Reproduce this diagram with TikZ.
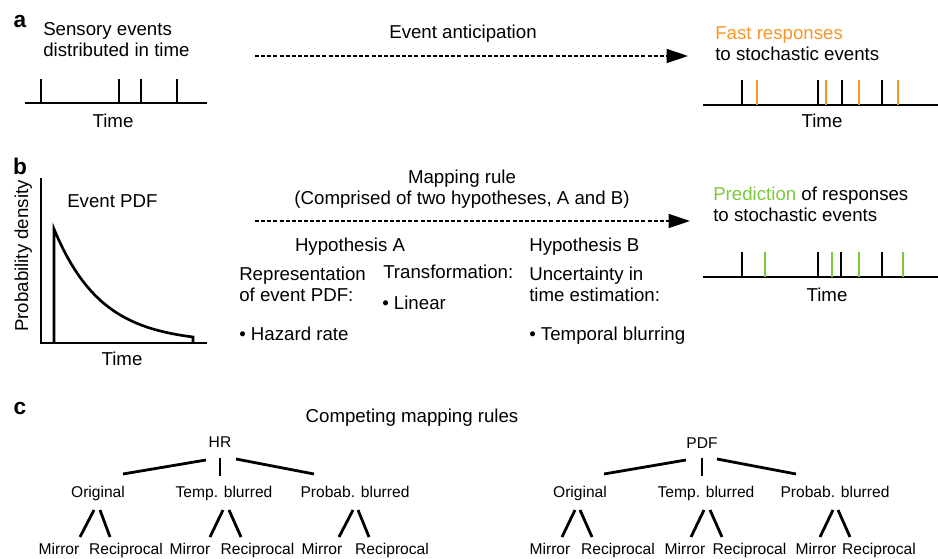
\documentclass[tikz,border=0pt]{standalone}
\usepackage{fontspec}
\setmainfont{Liberation Sans}
\usetikzlibrary{arrows.meta}
\usetikzlibrary{calc}
\usetikzlibrary{positioning}
\definecolor{fastorange}{RGB}{247,150,40}
\definecolor{predgreen}{RGB}{125,200,60}

\begin{document}
\begin{tikzpicture}[x=0.75pt, y=-0.75pt,
    txt/.style={inner sep=0pt, anchor=base, font=\fontsize{14pt}{16pt}\selectfont},
    ltxt/.style={txt, anchor=base west, align=left},
    tree/.style={inner sep=0pt, anchor=base, font=\fontsize{11.7pt}{14pt}\selectfont},
    panel/.style={inner sep=0pt, anchor=base, font=\fontsize{17pt}{19pt}\selectfont\bfseries},
    bar/.style={line width=2.1pt},
    rule arrow/.style={line width=1.1pt, dash pattern=on 3pt off 1.6pt,
      -{Triangle[length=16pt, width=10.5pt]}}]

  \useasboundingbox (0,0) rectangle (938,559);

  % a
  \node[panel] (la) at (20,28) {a};
  \node[ltxt] (sens) at (43,57) {Sensory events\\distributed in time};
  \coordinate (ta1) at (25,103);
  \coordinate (ta2) at (207,103);
  \draw[bar] (ta1) -- (ta2);
  \foreach \t in {41,119,141,177}
    \draw[bar] (\t,79) -- (\t,103);
  \node[txt] (timea) at (113,128) {Time};

  \node[txt] (antic) at (463,39) {Event anticipation};
  \coordinate (aa1) at (255,56);
  \coordinate (aa2) at (688,56);
  \draw[rule arrow] (aa1) -- (aa2);

  \node[ltxt] (fast) at (715,61) {\textcolor{fastorange}{Fast responses}\\to stochastic events};
  \coordinate (tr1) at (703,105);
  \coordinate (tr2) at (938,105);
  \draw[bar] (tr1) -- (tr2);
  \foreach \t in {742,818,842,882}
    \draw[bar] (\t,80) -- (\t,105);
  \foreach \t in {757,826,859,898}
    \draw[bar, fastorange] (\t,80) -- (\t,105);
  \node[txt] (timeb) at (822,128) {Time};

  % b
  \node[panel] (lb) at (20,175) {b};
  \coordinate (orig) at (41,343);
  \draw[bar] (41,178) -- (orig) -- (207,343);
  \draw[line width=2pt] (54,343) -- (54,229)
    -- plot[domain=54:193, samples=60] (\x, {343-114*exp(-(\x-54)/47.2)})
    -- (193,343);
  \node[ltxt] (pdf) at (67,208) {Event PDF};
  \node[txt, rotate=90] (ylab) at (28,256) {Probability density};
  \node[txt] (timec) at (122,365) {Time};

  \node[txt, align=center] (map) at (462,205) {Mapping rule\\(Comprised of two hypotheses, A and B)};
  \coordinate (ab1) at (255,221);
  \coordinate (ab2) at (690,221);
  \draw[rule arrow] (ab1) -- (ab2);

  \node[txt] (hypa) at (350,252) {Hypothesis A};
  \node[ltxt] (hypb) at (529,252) {Hypothesis B};
  \node[ltxt] (repr) at (239,302) {Representation\\of event PDF:};
  \node[ltxt] (trans) at (383,279) {Transformation:};
  \node[ltxt] (lin) at (382,310) {• Linear};
  \node[ltxt] (haz) at (239,340) {• Hazard rate};
  \node[ltxt] (unc) at (529,302) {Uncertainty in\\time estimation:};
  \node[ltxt] (blur) at (529,340) {• Temporal blurring};

  \node[ltxt] (pred) at (713,222) {\textcolor{predgreen}{Prediction} of responses\\to stochastic events};
  \coordinate (tp1) at (703,277);
  \coordinate (tp2) at (938,277);
  \draw[bar] (tp1) -- (tp2);
  \foreach \t in {742,818,841,882}
    \draw[bar] (\t,252) -- (\t,277);
  \foreach \t in {765,832,859,903}
    \draw[bar, predgreen] (\t,252) -- (\t,277);
  \node[txt] (timed) at (827,302) {Time};

  % c
  \node[panel] (lc) at (20,414) {c};
  \node[txt] (comp) at (412,422) {Competing mapping rules};

  \foreach \n/\x/\y/\lab in {hr/220/447/HR, hr-o/98/497/Original, hr-t/224/497/Temp. blurred,
      hr-p/355/497/Probab. blurred, hr-om/59/554/Mirror, hr-or/126/554/Reciprocal,
      hr-tm/190/554/Mirror, hr-tr/257.5/554/Reciprocal, hr-pm/322/554/Mirror,
      hr-pr/392/554/Reciprocal,
      pdf/702/448/PDF, pdf-o/580/497/Original, pdf-t/706/497/Temp. blurred,
      pdf-p/835/497/Probab. blurred, pdf-om/550/554/Mirror, pdf-or/618/554/Reciprocal,
      pdf-tm/685/554/Mirror, pdf-tr/749.5/554/Reciprocal, pdf-pm/816/554/Mirror,
      pdf-pr/879/554/Reciprocal}
    \node[tree] (\n) at (\x,\y) {\lab};

  \foreach \p/\c/\a/\b/\d/\e in {hr/hr-o/-14/13/25/-23, hr/hr-t/0/11/-4/-21, hr/hr-p/16/12/-41/-23,
      pdf/pdf-o/-16/12/24/-23, pdf/pdf-t/0/10/-4/-21, pdf/pdf-p/15/11/-39/-23}
    \draw[bar] ($(\p.base)+(\a,\b)$) -- ($(\c.base)+(\d,\e)$);

  \foreach \p/\c/\a/\d in {hr-o/hr-om/-4/21, hr-o/hr-or/2/-16, hr-t/hr-tm/-1/20,
      hr-t/hr-tr/5/-16.5, hr-p/hr-pm/-2/17, hr-p/hr-pr/3/-23,
      pdf-o/pdf-om/-5/12, pdf-o/pdf-or/0/-26, pdf-t/pdf-tm/-2/6,
      pdf-t/pdf-tr/4/-27.5, pdf-p/pdf-pm/-2/4, pdf-p/pdf-pr/3/-29}
    \draw[bar] ($(\p.base)+(\a,13)$) -- ($(\c.base)+(\d,-17)$);
\end{tikzpicture}
\end{document}
